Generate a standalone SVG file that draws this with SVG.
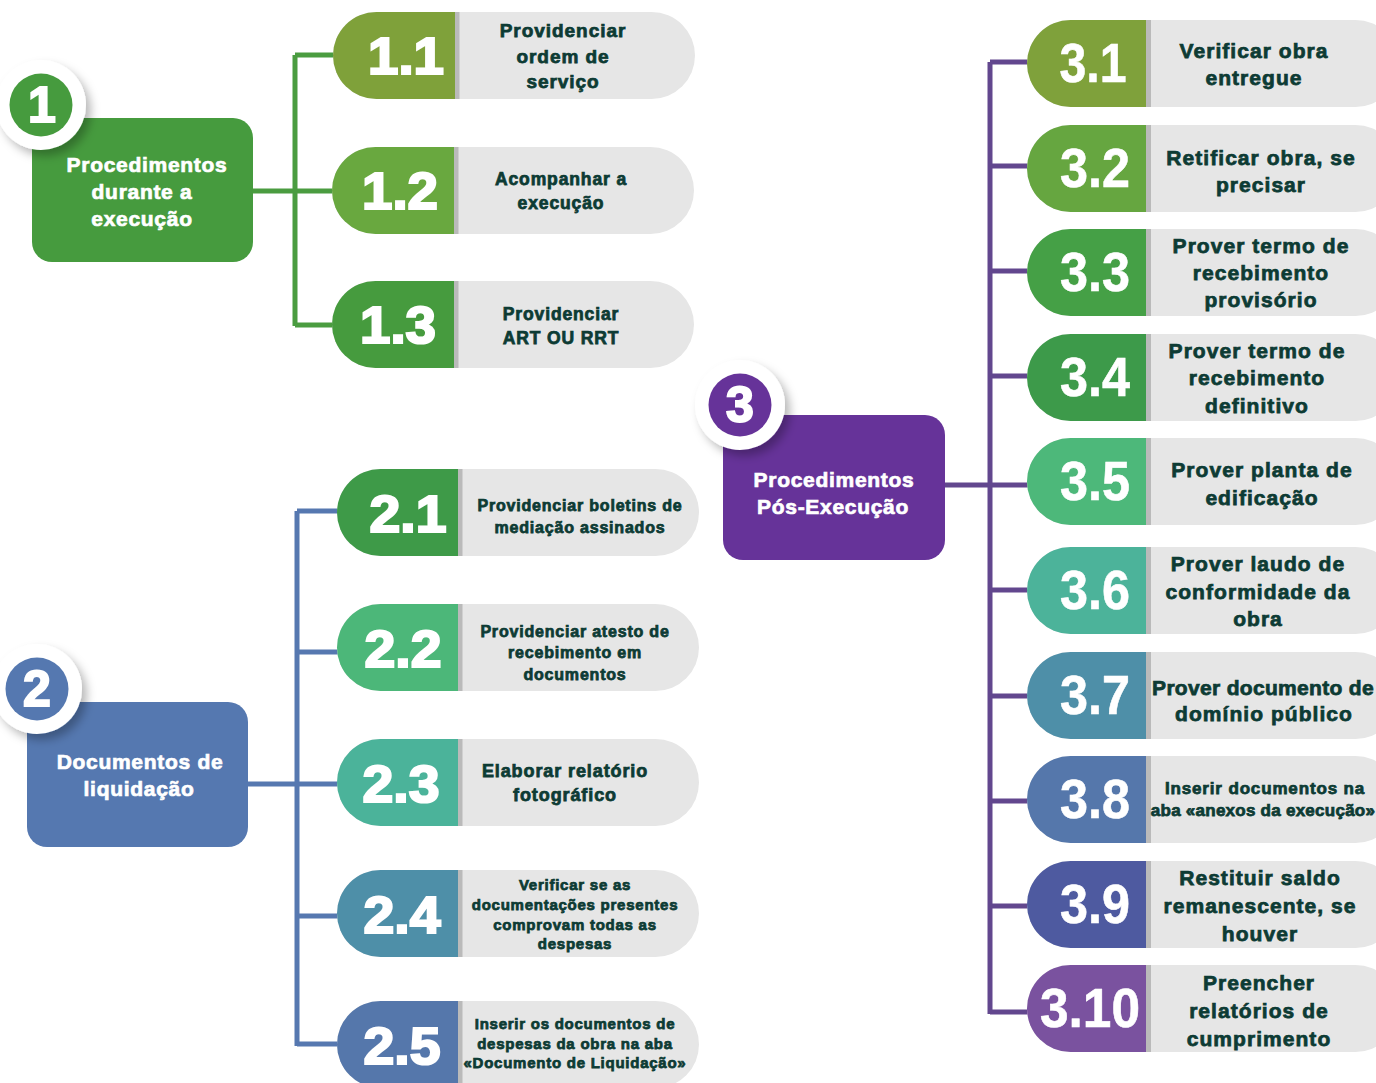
<svg xmlns="http://www.w3.org/2000/svg" width="1376" height="1083" viewBox="0 0 1376 1083">
  <defs>
    <filter id="ringShadow" x="-40%" y="-40%" width="190%" height="190%">
      <feDropShadow dx="5" dy="6" stdDeviation="5" flood-color="#000" flood-opacity="0.28"/>
    </filter>
    <style>
      .pill-bg { fill: #e6e6e6; }
      .strip { fill: #bababa; }
      .num { font-family: "Liberation Sans", Arial, sans-serif; font-weight: 700; fill: #fff; text-anchor: middle; }
      .num-heavy { font-size: 52px; stroke: #fff; stroke-width: 2.2; paint-order: stroke; }
      .num-light { font-size: 55px; stroke: #fff; stroke-width: 0.6; }
      .lbl { font-family: "Liberation Sans", Arial, sans-serif; font-weight: 700; fill: #0d3b34; text-anchor: middle; stroke: #0d3b34; stroke-width: 0.75; paint-order: stroke; letter-spacing: 0.05em; }
      .tight { letter-spacing: 0.015em; }
      .head { font-family: "Liberation Sans", Arial, sans-serif; font-weight: 700; font-size: 21px; fill: #fff; text-anchor: middle; stroke: #fff; stroke-width: 0.7; letter-spacing: 0.7px; }
      .badge-num { font-family: "Liberation Sans", Arial, sans-serif; font-weight: 700; font-size: 50px; fill: #fff; text-anchor: middle; stroke: #fff; stroke-width: 2; }
      .c1 { stroke: #4a9c40; }
      .c2 { stroke: #5678b0; }
      .c3 { stroke: #62478e; }
      .conn path { fill: none; stroke-width: 5; }
    </style>
  </defs>

  <rect width="1376" height="1083" fill="#fff"/>

  <!-- connectors -->
  <g id="connectors" class="conn">
    <path class="c1" d="M252 191 H295 M295 55 V326 M295 55 H336 M295 191 H336 M295 325 H336"/>
    <path class="c2" d="M247 784 H297 M297 511 V1046 M297 511 H341 M297 652 H341 M297 784 H341 M297 916 H341 M297 1044 H341"/>
    <path class="c3" d="M944 485 H990 M990 62 V1014 M990 62 H1031 M990 166 H1031 M990 271 H1031 M990 376 H1031 M990 485 H1031 M990 590 H1031 M990 696 H1031 M990 801 H1031 M990 906 H1031 M990 1012 H1031"/>
  </g>

  <!-- section 1 -->
  <g id="sec1">
    <rect x="32" y="118" width="221" height="144" rx="20" fill="#469b3e"/>
    <text class="head" x="147" y="172">Procedimentos</text>
    <text class="head" x="142" y="199">durante a</text>
    <text class="head" x="142" y="226">execução</text>
    <circle cx="41" cy="105" r="45" fill="#fff" filter="url(#ringShadow)"/>
    <circle cx="41" cy="105" r="31.5" fill="#469b3e"/>
    <text class="badge-num" x="42" y="122">1</text>
  </g>

  <g id="n1-1" transform="translate(333,12)">
    <rect class="pill-bg" width="362" height="87" rx="43.5"/>
    <path d="M122 0 H43.5 A43.5 43.5 0 0 0 43.5 87 H122 Z" fill="#7fa13a"/>
    <rect class="strip" x="122" width="4.5" height="87"/>
    <text class="num num-heavy" x="73" y="62" textLength="76" lengthAdjust="spacingAndGlyphs">1.1</text>
    <text class="lbl" font-size="19" x="230" y="25">Providenciar</text>
    <text class="lbl" font-size="19" x="230" y="51">ordem de</text>
    <text class="lbl" font-size="19" x="230" y="76">serviço</text>
  </g>
  <g id="n1-2" transform="translate(332,147)">
    <rect class="pill-bg" width="362" height="87" rx="43.5"/>
    <path d="M122 0 H43.5 A43.5 43.5 0 0 0 43.5 87 H122 Z" fill="#69a83f"/>
    <rect class="strip" x="122" width="4.5" height="87"/>
    <text class="num num-heavy" x="68" y="62" textLength="76" lengthAdjust="spacingAndGlyphs">1.2</text>
    <text class="lbl" font-size="17.5" x="229" y="38">Acompanhar a</text>
    <text class="lbl" font-size="17.5" x="229" y="62">execução</text>
  </g>
  <g id="n1-3" transform="translate(332,281)">
    <rect class="pill-bg" width="362" height="87" rx="43.5"/>
    <path d="M122 0 H43.5 A43.5 43.5 0 0 0 43.5 87 H122 Z" fill="#469b3e"/>
    <rect class="strip" x="122" width="4.5" height="87"/>
    <text class="num num-heavy" x="66" y="62" textLength="76" lengthAdjust="spacingAndGlyphs">1.3</text>
    <text class="lbl" font-size="17.5" x="229" y="39">Providenciar</text>
    <text class="lbl" font-size="17.5" x="229" y="63">ART OU RRT</text>
  </g>

  <!-- section 2 -->
  <g id="sec2">
    <rect x="27" y="702" width="221" height="145" rx="20" fill="#5578b0"/>
    <text class="head" x="140" y="769">Documentos de</text>
    <text class="head" x="139" y="796">liquidação</text>
    <circle cx="37" cy="689" r="45" fill="#fff" filter="url(#ringShadow)"/>
    <circle cx="37" cy="689" r="31.5" fill="#5578b0"/>
    <text class="badge-num" x="37" y="706">2</text>
  </g>

  <g id="n2-1" transform="translate(337,469)">
    <rect class="pill-bg" width="362" height="87" rx="43.5"/>
    <path d="M121 0 H43.5 A43.5 43.5 0 0 0 43.5 87 H121 Z" fill="#3e9a48"/>
    <rect class="strip" x="121" width="4.5" height="87"/>
    <text class="num num-heavy" x="71" y="63" textLength="77" lengthAdjust="spacingAndGlyphs">2.1</text>
    <text class="lbl" font-size="16" x="243" y="42">Providenciar boletins de</text>
    <text class="lbl" font-size="16" x="243" y="64">mediação assinados</text>
  </g>
  <g id="n2-2" transform="translate(337,604)">
    <rect class="pill-bg" width="362" height="87" rx="43.5"/>
    <path d="M121 0 H43.5 A43.5 43.5 0 0 0 43.5 87 H121 Z" fill="#4cb779"/>
    <rect class="strip" x="121" width="4.5" height="87"/>
    <text class="num num-heavy" x="66" y="63" textLength="77" lengthAdjust="spacingAndGlyphs">2.2</text>
    <text class="lbl" font-size="16" x="238" y="33">Providenciar atesto de</text>
    <text class="lbl" font-size="16" x="238" y="54">recebimento em</text>
    <text class="lbl" font-size="16" x="238" y="76">documentos</text>
  </g>
  <g id="n2-3" transform="translate(337,739)">
    <rect class="pill-bg" width="362" height="87" rx="43.5"/>
    <path d="M121 0 H43.5 A43.5 43.5 0 0 0 43.5 87 H121 Z" fill="#4bb39a"/>
    <rect class="strip" x="121" width="4.5" height="87"/>
    <text class="num num-heavy" x="64" y="63" textLength="77" lengthAdjust="spacingAndGlyphs">2.3</text>
    <text class="lbl" font-size="18" x="228" y="38">Elaborar relatório</text>
    <text class="lbl" font-size="18" x="228" y="62">fotográfico</text>
  </g>
  <g id="n2-4" transform="translate(337,870)">
    <rect class="pill-bg" width="362" height="87" rx="43.5"/>
    <path d="M121 0 H43.5 A43.5 43.5 0 0 0 43.5 87 H121 Z" fill="#4e8fa8"/>
    <rect class="strip" x="121" width="4.5" height="87"/>
    <text class="num num-heavy" x="65" y="63" textLength="77" lengthAdjust="spacingAndGlyphs">2.4</text>
    <text class="lbl" font-size="15" x="238" y="20">Verificar se as</text>
    <text class="lbl" font-size="15" x="238" y="40">documentações presentes</text>
    <text class="lbl" font-size="15" x="238" y="60">comprovam todas as</text>
    <text class="lbl" font-size="15" x="238" y="79">despesas</text>
  </g>
  <g id="n2-5" transform="translate(337,1001)">
    <rect class="pill-bg" width="362" height="87" rx="43.5"/>
    <path d="M121 0 H43.5 A43.5 43.5 0 0 0 43.5 87 H121 Z" fill="#5577ab"/>
    <rect class="strip" x="121" width="4.5" height="87"/>
    <text class="num num-heavy" x="65" y="63" textLength="77" lengthAdjust="spacingAndGlyphs">2.5</text>
    <text class="lbl" font-size="15" x="238" y="28">Inserir os documentos de</text>
    <text class="lbl" font-size="15" x="238" y="48">despesas da obra na aba</text>
    <text class="lbl" font-size="15" x="238" y="67">«Documento de Liquidação»</text>
  </g>

  <!-- section 3 -->
  <g id="sec3">
    <rect x="723" y="415" width="222" height="145" rx="20" fill="#663399"/>
    <text class="head" x="834" y="487">Procedimentos</text>
    <text class="head" x="833" y="514">Pós-Execução</text>
    <circle cx="740" cy="405" r="45" fill="#fff" filter="url(#ringShadow)"/>
    <circle cx="740" cy="405" r="31.5" fill="#663399"/>
    <text class="badge-num" x="740" y="422">3</text>
  </g>

  <g id="n3-1" transform="translate(1027,20)">
    <rect class="pill-bg" width="372" height="87" rx="43.5"/>
    <path d="M119 0 H43.5 A43.5 43.5 0 0 0 43.5 87 H119 Z" fill="#7fa13b"/>
    <rect class="strip" x="119" width="5" height="87"/>
    <text class="num num-light" x="66" y="62" textLength="67" lengthAdjust="spacingAndGlyphs">3.1</text>
    <text class="lbl" font-size="21" x="227" y="38">Verificar obra</text>
    <text class="lbl" font-size="21" x="227" y="65">entregue</text>
  </g>
  <g id="n3-2" transform="translate(1027,125)">
    <rect class="pill-bg" width="372" height="87" rx="43.5"/>
    <path d="M119 0 H43.5 A43.5 43.5 0 0 0 43.5 87 H119 Z" fill="#66a640"/>
    <rect class="strip" x="119" width="5" height="87"/>
    <text class="num num-light" x="68" y="62" textLength="70" lengthAdjust="spacingAndGlyphs">3.2</text>
    <text class="lbl" font-size="21" x="234" y="40">Retificar obra, se</text>
    <text class="lbl" font-size="21" x="234" y="67">precisar</text>
  </g>
  <g id="n3-3" transform="translate(1027,229)">
    <rect class="pill-bg" width="372" height="87" rx="43.5"/>
    <path d="M119 0 H43.5 A43.5 43.5 0 0 0 43.5 87 H119 Z" fill="#45a046"/>
    <rect class="strip" x="119" width="5" height="87"/>
    <text class="num num-light" x="68" y="62" textLength="70" lengthAdjust="spacingAndGlyphs">3.3</text>
    <text class="lbl" font-size="21" x="234" y="24">Prover termo de</text>
    <text class="lbl" font-size="21" x="234" y="51">recebimento</text>
    <text class="lbl" font-size="21" x="234" y="78">provisório</text>
  </g>
  <g id="n3-4" transform="translate(1027,334)">
    <rect class="pill-bg" width="372" height="87" rx="43.5"/>
    <path d="M119 0 H43.5 A43.5 43.5 0 0 0 43.5 87 H119 Z" fill="#3d9a4a"/>
    <rect class="strip" x="119" width="5" height="87"/>
    <text class="num num-light" x="68" y="62" textLength="70" lengthAdjust="spacingAndGlyphs">3.4</text>
    <text class="lbl" font-size="21" x="230" y="24">Prover termo de</text>
    <text class="lbl" font-size="21" x="230" y="51">recebimento</text>
    <text class="lbl" font-size="21" x="230" y="79">definitivo</text>
  </g>
  <g id="n3-5" transform="translate(1027,438)">
    <rect class="pill-bg" width="372" height="87" rx="43.5"/>
    <path d="M119 0 H43.5 A43.5 43.5 0 0 0 43.5 87 H119 Z" fill="#4db87a"/>
    <rect class="strip" x="119" width="5" height="87"/>
    <text class="num num-light" x="68" y="62" textLength="70" lengthAdjust="spacingAndGlyphs">3.5</text>
    <text class="lbl" font-size="21" x="235" y="39">Prover planta de</text>
    <text class="lbl" font-size="21" x="235" y="67">edificação</text>
  </g>
  <g id="n3-6" transform="translate(1027,547)">
    <rect class="pill-bg" width="372" height="87" rx="43.5"/>
    <path d="M119 0 H43.5 A43.5 43.5 0 0 0 43.5 87 H119 Z" fill="#4cb39a"/>
    <rect class="strip" x="119" width="5" height="87"/>
    <text class="num num-light" x="68" y="62" textLength="70" lengthAdjust="spacingAndGlyphs">3.6</text>
    <text class="lbl" font-size="21" x="231" y="24">Prover laudo de</text>
    <text class="lbl" font-size="21" x="231" y="52">conformidade da</text>
    <text class="lbl" font-size="21" x="231" y="79">obra</text>
  </g>
  <g id="n3-7" transform="translate(1027,652)">
    <rect class="pill-bg" width="372" height="87" rx="43.5"/>
    <path d="M119 0 H43.5 A43.5 43.5 0 0 0 43.5 87 H119 Z" fill="#4e8fa8"/>
    <rect class="strip" x="119" width="5" height="87"/>
    <text class="num num-light" x="68" y="62" textLength="70" lengthAdjust="spacingAndGlyphs">3.7</text>
    <text class="lbl tight" font-size="21" x="236" y="43">Prover documento de</text>
    <text class="lbl" font-size="21" x="237" y="69">domínio público</text>
  </g>
  <g id="n3-8" transform="translate(1027,756)">
    <rect class="pill-bg" width="372" height="87" rx="43.5"/>
    <path d="M119 0 H43.5 A43.5 43.5 0 0 0 43.5 87 H119 Z" fill="#5577ab"/>
    <rect class="strip" x="119" width="5" height="87"/>
    <text class="num num-light" x="68" y="62" textLength="70" lengthAdjust="spacingAndGlyphs">3.8</text>
    <text class="lbl" font-size="17" x="238" y="38">Inserir documentos na</text>
    <text class="lbl tight" font-size="17" x="236" y="60">aba «anexos da execução»</text>
  </g>
  <g id="n3-9" transform="translate(1027,861)">
    <rect class="pill-bg" width="372" height="87" rx="43.5"/>
    <path d="M119 0 H43.5 A43.5 43.5 0 0 0 43.5 87 H119 Z" fill="#4e5aa0"/>
    <rect class="strip" x="119" width="5" height="87"/>
    <text class="num num-light" x="68" y="62" textLength="70" lengthAdjust="spacingAndGlyphs">3.9</text>
    <text class="lbl" font-size="21" x="233" y="24">Restituir saldo</text>
    <text class="lbl" font-size="21" x="233" y="52">remanescente, se</text>
    <text class="lbl" font-size="21" x="233" y="80">houver</text>
  </g>
  <g id="n3-10" transform="translate(1027,965)">
    <rect class="pill-bg" width="372" height="87" rx="43.5"/>
    <path d="M119 0 H43.5 A43.5 43.5 0 0 0 43.5 87 H119 Z" fill="#7a529f"/>
    <rect class="strip" x="119" width="5" height="87"/>
    <text class="num num-light" x="63" y="62" textLength="100" lengthAdjust="spacingAndGlyphs">3.10</text>
    <text class="lbl" font-size="21" x="232" y="25">Preencher</text>
    <text class="lbl" font-size="21" x="232" y="53">relatórios de</text>
    <text class="lbl" font-size="21" x="232" y="81">cumprimento</text>
  </g>
</svg>
